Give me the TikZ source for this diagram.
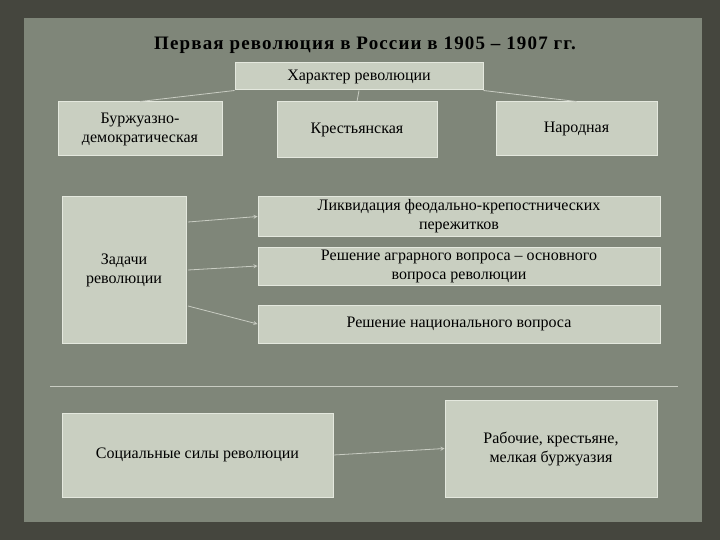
\documentclass[tikz,border=0pt]{standalone}
\usepackage{fontspec}
\setmainfont{Liberation Serif}
\definecolor{frame}{HTML}{45463E}
\definecolor{panel}{HTML}{7F8679}
\definecolor{boxfill}{HTML}{C9CFC1}
\definecolor{boxline}{HTML}{E4E8DE}
\definecolor{conn}{HTML}{C8CCC2}
\tikzset{
  bx/.style={draw=boxline, line width=1pt, fill=boxfill, align=center, font=\fontsize{16}{19}\selectfont, inner sep=2pt},
  cn/.style={draw=conn, line width=0.8pt},
  ar/.style={cn, -stealth}
}
\begin{document}
\begin{tikzpicture}[x=1pt,y=-1pt]
\useasboundingbox (0,0) rectangle (720,540);
\fill[frame] (0,0) rectangle (720,540);
\fill[panel] (24,18) rectangle (702,522);
\node (title) at (365,45) {\fontsize{19}{22}\selectfont\bfseries\addfontfeature{LetterSpace=6}Первая революция в России в 1905 – 1907 гг.};
\node[bx, minimum width=248pt, minimum height=27pt] (har) at (359,76.5) {Характер революции};
\node[bx, minimum width=164pt, minimum height=54pt] (b1) at (140,129) {Буржуазно-\\демократическая};
\node[bx, minimum width=160pt, minimum height=56pt] (b2) at (357,130) {Крестьянская};
\node[bx, minimum width=161pt, minimum height=54pt] (b3) at (576.5,129) {Народная};
\draw[cn] (har.south west) -- (b1.north);
\draw[cn] (har.south) -- (b2.north);
\draw[cn] (har.south east) -- (b3.north);
\node[bx, minimum width=124pt, minimum height=146pt] (zad) at (124,270) {Задачи\\революции};
\node[bx, minimum width=402pt, minimum height=39pt] (t1) at (459,216.5) {Ликвидация феодально-крепостнических\\пережитков};
\node[bx, minimum width=402pt, minimum height=38pt] (t2) at (459,266) {Решение аграрного вопроса – основного\\вопроса революции};
\node[bx, minimum width=402pt, minimum height=38pt] (t3) at (459,324) {Решение национального вопроса};
\coordinate (z1) at (188,222);
\coordinate (z2) at (188,270);
\coordinate (z3) at (188,306);
\draw[ar] (z1) -- (t1.west);
\draw[ar] (z2) -- (t2.west);
\draw[ar] (z3) -- (t3.west);
\coordinate (h1) at (50,386);
\coordinate (h2) at (678,386);
\draw[cn] (h1) -- (h2);
\node[bx, minimum width=271pt, minimum height=84pt] (soc) at (197.5,455) {Социальные силы революции};
\node[bx, minimum width=212pt, minimum height=97pt] (rab) at (551,448.5) {Рабочие, крестьяне,\\мелкая буржуазия};
\draw[ar] (soc.east) -- (rab.west);
\end{tikzpicture}
\end{document}
